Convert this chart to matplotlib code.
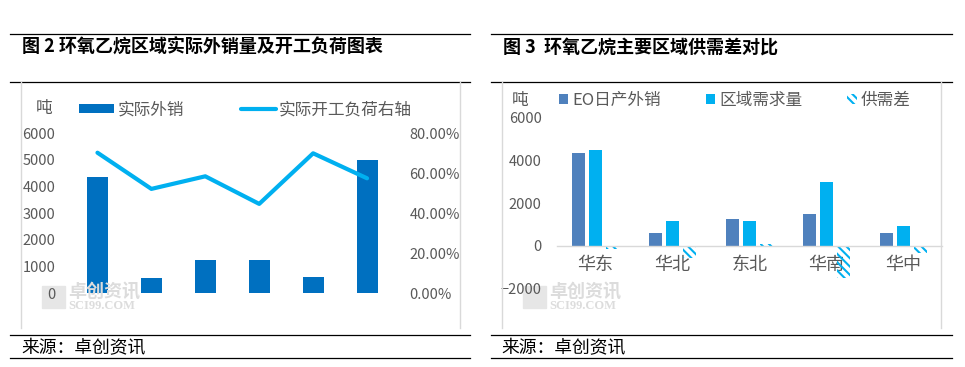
import matplotlib
matplotlib.use('Agg')
import matplotlib.pyplot as plt
import numpy as np
from matplotlib.lines import Line2D
from matplotlib.patches import Rectangle

plt.rcParams['font.family'] = ['Noto Sans CJK SC', 'DejaVu Sans']
plt.rcParams['hatch.linewidth'] = 1.5

# ---- data: 图2 ----
sales = [4360, 575, 1250, 1250, 610, 5000]
load_rate = [70.3, 52.2, 58.5, 44.7, 70.0, 57.5]

# ---- data: 图3 ----
regions = ['华东', '华北', '东北', '华南', '华中']
eo_sales = [4350, 600, 1260, 1500, 600]
demand = [4490, 1170, 1170, 2990, 935]
gap = [-120, -560, 90, -1480, -310]

GREY = '#595959'
W, H = 965, 367


def fx(x):
    return x / W


def fy(y):
    return 1 - y / H


fig = plt.figure(figsize=(9.65, 3.67), dpi=100)


def hline(x0, x1, y, color='black', lw=0.9):
    fig.add_artist(Line2D([fx(x0), fx(x1)], [fy(y), fy(y)], color=color, lw=lw))


def vline(x, y0, y1, color='#D9D9D9', lw=1.0):
    fig.add_artist(Line2D([fx(x), fx(x)], [fy(y0), fy(y1)], color=color, lw=lw))


def watermark(x):
    # faint logo block + text, like the source image
    fig.add_artist(Rectangle((fx(x), fy(308)), 23 / W, 22 / H, color='#E6E6E6', zorder=0))
    fig.text(fx(x + 26), fy(291), '卓创资讯', color='#DCDCDC', fontsize=13,
             fontweight='bold', va='center', zorder=0)
    fig.text(fx(x + 26), fy(306), 'SCI99.COM', color='#DCDCDC', fontsize=9,
             family='Liberation Serif', fontweight='bold', va='center', zorder=0)


# frames
for x0, x1, gl, gr in [(10, 470, 20.7, 460), (491, 952, 501.7, 941)]:
    hline(x0, x1, 34)
    hline(x0, x1, 82)
    hline(x0, x1, 335)
    hline(x0, x1, 358)
    vline(gl, 82, 328)
    vline(gr, 82, 328)

fig.text(fx(22), fy(47), '图 2 环氧乙烷区域实际外销量及开工负荷图表', fontsize=13,
         fontweight='bold', va='center')
fig.text(fx(503), fy(47), '图 3  环氧乙烷主要区域供需差对比', fontsize=13,
         fontweight='bold', va='center')
fig.text(fx(21), fy(348), '来源：卓创资讯', fontsize=12.8, va='center')
fig.text(fx(501), fy(348), '来源：卓创资讯', fontsize=12.8, va='center')

watermark(42)
watermark(523)

# ---- left chart ----
ax1 = fig.add_axes([fx(70.5), fy(293.3), (394 - 70.5) / W, 160 / H])
ax1.patch.set_alpha(0)
x = np.arange(len(sales))
b1 = ax1.bar(x, sales, width=0.39, color='#0070C0', zorder=2)
ax1.set_xlim(-0.5, len(sales) - 0.5)
ax1.set_ylim(0, 6000)
ax1.set_yticks(range(0, 6001, 1000))
ax1.set_xticks([])
for s in ax1.spines.values():
    s.set_visible(False)
ax1.tick_params(axis='y', length=0, pad=11, labelsize=10.5, labelcolor=GREY)

ax1b = ax1.twinx()
l1, = ax1b.plot(x, load_rate, color='#00B0F0', lw=3, solid_capstyle='round', zorder=3)
ax1b.set_ylim(0, 80)
ax1b.set_yticks(range(0, 81, 20))
ax1b.set_yticklabels(['%.2f%%' % v for v in range(0, 81, 20)])
for s in ax1b.spines.values():
    s.set_visible(False)
ax1b.tick_params(axis='y', length=0, pad=11, labelsize=10.5, labelcolor=GREY)

fig.text(fx(44), fy(109), '吨', fontsize=12, color=GREY, ha='center', va='center')
fig.legend([b1, l1], ['实际外销', '实际开工负荷右轴'], loc='center left',
           bbox_to_anchor=(fx(79), fy(110)), ncol=2, frameon=False, fontsize=12,
           labelcolor=GREY, handlelength=2.1, handleheight=0.5, handletextpad=0.2,
           columnspacing=3.4, borderpad=0, borderaxespad=0)

# ---- right chart ----
ax2 = fig.add_axes([fx(557), fy(288.7), 385 / W, (288.7 - 117.7) / H])
ax2.patch.set_alpha(0)
xr = np.arange(len(regions))
b2 = ax2.bar(xr - 0.22, eo_sales, width=0.18, color='#4F81BD', zorder=2)
b3 = ax2.bar(xr, demand, width=0.18, color='#00B0F0', zorder=2)
b4 = ax2.bar(xr + 0.22, gap, width=0.18, facecolor='none', edgecolor='#00B0F0',
             linewidth=0, hatch='\\\\\\\\', zorder=2)
ax2.set_xlim(-0.5, len(regions) - 0.5)
ax2.set_ylim(-2000, 6000)
ax2.set_yticks(range(-2000, 6001, 2000))
ax2.set_xticks(xr)
ax2.set_xticklabels(regions)
for s in ['top', 'right', 'left']:
    ax2.spines[s].set_visible(False)
ax2.spines['bottom'].set_position(('data', 0))
ax2.spines['bottom'].set_color('#D9D9D9')
ax2.spines['bottom'].set_linewidth(1.0)
ax2.tick_params(axis='y', length=0, pad=11, labelsize=10.5, labelcolor=GREY)
ax2.tick_params(axis='x', length=0, pad=7, labelsize=13, labelcolor=GREY)

fig.text(fx(520), fy(101), '吨', fontsize=12, color=GREY, ha='center', va='center')
fig.legend([b2, b3, b4], ['EO日产外销', '区域需求量', '供需差'], loc='center left',
           bbox_to_anchor=(fx(559), fy(100)), ncol=3, frameon=False, fontsize=12,
           labelcolor=GREY, handlelength=0.55, handleheight=0.55, handletextpad=0.25,
           columnspacing=2.7, borderpad=0, borderaxespad=0)

fig.savefig('out.png', dpi=100)
